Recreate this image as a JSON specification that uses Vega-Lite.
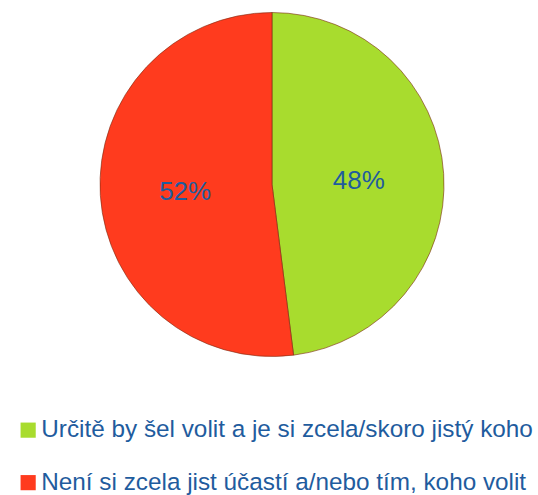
{
  "$schema": "https://vega.github.io/schema/vega-lite/v6.json",
  "autosize": {"type": "none"},
  "width": 532,
  "height": 369,
  "padding": {"left": 6, "top": 0, "right": 0, "bottom": 126},
  "background": "white",
  "data": {"values": [
    {"kat": "Určitě by šel volit a je si zcela/skoro jistý koho", "pct": 48, "label": "48%", "ord": 1},
    {"kat": "Není si zcela jist účastí a/nebo tím, koho volit", "pct": 52, "label": "52%", "ord": 2}
  ]},
  "encoding": {
    "theta": {"field": "pct", "type": "quantitative", "stack": true},
    "order": {"field": "ord", "type": "quantitative"}
  },
  "layer": [
    {
      "mark": {"type": "arc", "outerRadius": 172, "stroke": "#7a2a10", "strokeWidth": 0.6},
      "encoding": {
        "color": {
          "field": "kat", "type": "nominal",
          "scale": {
            "domain": ["Určitě by šel volit a je si zcela/skoro jistý koho", "Není si zcela jist účastí a/nebo tím, koho volit"],
            "range": ["#A8DC2E", "#FF3B1E"]
          },
          "legend": {
            "title": null,
            "orient": "none",
            "legendX": 10,
            "legendY": 418,
            "padding": 0,
            "symbolType": "square",
            "symbolSize": 230,
            "symbolStrokeWidth": 0,
            "labelFont": "Liberation Sans",
            "labelFontSize": 24.3,
            "labelColor": "#1F5C9E",
            "labelLimit": 0,
            "labelOffset": 1,
            "rowPadding": 27.5
          }
        }
      }
    },
    {
      "mark": {"type": "text", "radius": 87, "font": "Liberation Sans", "fontSize": 26, "color": "#1F5C9E", "dy": 2},
      "encoding": {"text": {"field": "label"}}
    }
  ]
}
